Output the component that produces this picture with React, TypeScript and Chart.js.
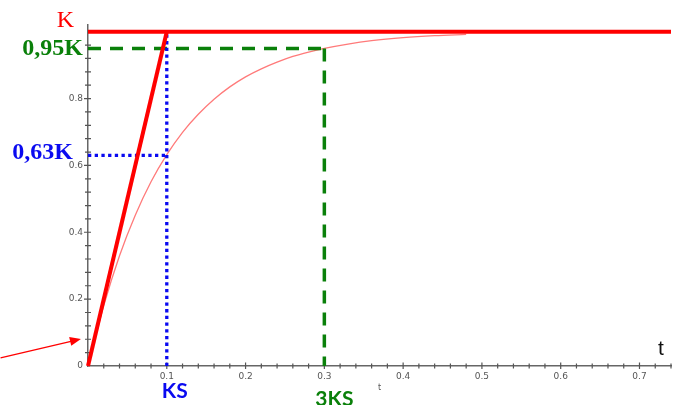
import React, { useEffect, useRef } from "react";
import { Chart, registerables } from "chart.js";

Chart.register(...registerables);

// ---- data ----
const T_VALUES = [0, 0.02, 0.04, 0.06, 0.08, 0.1, 0.12, 0.14, 0.16, 0.18, 0.2, 0.22, 0.24, 0.26, 0.28, 0.3, 0.33, 0.36, 0.4, 0.44, 0.48];
const RESPONSE = [0, 0.181, 0.33, 0.451, 0.551, 0.632, 0.699, 0.753, 0.798, 0.835, 0.865, 0.889, 0.909, 0.926, 0.939, 0.95, 0.963, 0.973, 0.982, 0.988, 0.992];
const K_VALUE = 1;
const KS = 0.1;
const THREE_KS = 0.3;
const LEVEL_63 = 0.63;
const LEVEL_95 = 0.95;
const X_MAX = 0.74;
const Y_MAX = 1.02;
const ARROW_FROM = [-0.111, 0.024];
const ARROW_TO = [-0.009, 0.081];

const RED = "#ff0000";
const BLUE = "#0a0af0";
const GREEN = "#0a800a";

const axisPlugin = {
  id: "axisDecor",
  beforeDatasetsDraw(chart: any) {
    const { ctx, scales } = chart;
    const x = scales.x;
    const y = scales.y;
    const y0 = y.getPixelForValue(0);
    const x0 = x.getPixelForValue(0);
    ctx.save();
    ctx.strokeStyle = "#555";
    ctx.lineWidth = 1.2;
    ctx.beginPath();
    x.ticks.forEach((t: any) => {
      const v = Math.round(t.value * 100);
      if (v === 0 || v % 2 !== 0) return;
      const px = x.getPixelForValue(t.value);
      const major = v % 10 === 0;
      ctx.moveTo(px, y0 - (major ? 3.5 : 2.5));
      ctx.lineTo(px, y0 + (major ? 3 : 2.5));
    });
    y.ticks.forEach((t: any) => {
      const v = Math.round(t.value * 100);
      if (v === 0 || v % 4 !== 0) return;
      const py = y.getPixelForValue(t.value);
      const major = v % 20 === 0;
      ctx.moveTo(x0 - (major ? 4 : 3), py);
      ctx.lineTo(x0 + 3, py);
    });
    ctx.stroke();
    ctx.restore();
  },
  afterDraw(chart: any) {
    const { ctx, scales } = chart;
    const x = scales.x;
    const y = scales.y;
    const x0 = x.getPixelForValue(0);
    ctx.save();
    // arrow
    const fx = x.getPixelForValue(ARROW_FROM[0]);
    const fy = y.getPixelForValue(ARROW_FROM[1]);
    const tx = x.getPixelForValue(ARROW_TO[0]);
    const ty = y.getPixelForValue(ARROW_TO[1]);
    const ang = Math.atan2(ty - fy, tx - fx);
    ctx.strokeStyle = RED;
    ctx.fillStyle = RED;
    ctx.lineWidth = 1.3;
    ctx.beginPath();
    ctx.moveTo(fx, fy);
    ctx.lineTo(tx - 8 * Math.cos(ang), ty - 8 * Math.sin(ang));
    ctx.stroke();
    ctx.beginPath();
    ctx.moveTo(tx, ty);
    ctx.lineTo(tx - 11 * Math.cos(ang) + 4.5 * Math.sin(ang), ty - 11 * Math.sin(ang) - 4.5 * Math.cos(ang));
    ctx.lineTo(tx - 11 * Math.cos(ang) - 4.5 * Math.sin(ang), ty - 11 * Math.sin(ang) + 4.5 * Math.cos(ang));
    ctx.closePath();
    ctx.fill();

    // labels
    ctx.textBaseline = "middle";
    ctx.textAlign = "right";
    ctx.fillStyle = RED;
    ctx.font = '24px "Liberation Serif", serif';
    ctx.fillText("K", x0 - 14, y.getPixelForValue(K_VALUE) - 11);
    ctx.fillStyle = GREEN;
    ctx.font = 'bold 24px "Liberation Serif", serif';
    ctx.fillText("0,95K", x0 - 5, y.getPixelForValue(LEVEL_95));
    ctx.fillStyle = BLUE;
    ctx.fillText("0,63K", x0 - 15, y.getPixelForValue(LEVEL_63) - 3);

    ctx.textAlign = "center";
    ctx.textBaseline = "alphabetic";
    ctx.font = 'bold 21px Lato, "Liberation Sans", sans-serif';
    ctx.fillStyle = BLUE;
    ctx.fillText("KS", x.getPixelForValue(KS) + 8, 398);
    ctx.fillStyle = GREEN;
    ctx.fillText("3KS", x.getPixelForValue(THREE_KS) + 10, 406);

    ctx.fillStyle = "#111";
    ctx.font = '21px "Liberation Sans", sans-serif';
    ctx.textAlign = "center";
    ctx.fillText("t", 661, 355);
    ctx.restore();
  },
};

export default function App() {
  const ref = useRef<HTMLCanvasElement | null>(null);
  useEffect(() => {
    if (!ref.current) return;
    const curve = T_VALUES.map((t, i) => ({ x: t, y: RESPONSE[i] }));
    const chart = new Chart(ref.current, {
      type: "line",
      data: {
        datasets: [
          { data: [{ x: 0, y: K_VALUE }, { x: X_MAX, y: K_VALUE }], borderColor: RED, borderWidth: 4, order: 0 },
          { data: [{ x: 0, y: 0 }, { x: KS, y: K_VALUE }], borderColor: RED, borderWidth: 4, order: 0 },
          { data: [{ x: KS, y: 0 }, { x: KS, y: K_VALUE }], borderColor: BLUE, borderWidth: 3.3, borderDash: [3.3, 3.4], order: 1 },
          { data: [{ x: 0, y: LEVEL_63 }, { x: KS, y: LEVEL_63 }], borderColor: BLUE, borderWidth: 3.3, borderDash: [3.3, 3.4], order: 1 },
          { data: [{ x: 0, y: LEVEL_95 }, { x: THREE_KS, y: LEVEL_95 }], borderColor: GREEN, borderWidth: 3.5, borderDash: [13, 9], order: 1 },
          { data: [{ x: THREE_KS, y: LEVEL_95 }, { x: THREE_KS, y: 0 }], borderColor: GREEN, borderWidth: 3.5, borderDash: [13, 9], order: 1 },
          { data: curve, borderColor: "#ff7a7a", borderWidth: 1.3, cubicInterpolationMode: "monotone", order: 2 },
        ].map((d: any) => ({ ...d, pointRadius: 0, fill: false, clip: false, borderCapStyle: "butt" })),
      },
      options: {
        responsive: false,
        animation: false,
        layout: { padding: { left: 0, top: 25, right: 0, bottom: 0 } },
        plugins: { legend: { display: false }, tooltip: { enabled: false } },
        scales: {
          x: {
            type: "linear",
            min: 0,
            max: X_MAX,
            grid: { display: false, drawTicks: false, tickLength: 0 },
            border: { display: true, color: "#666", width: 1.5 },
            ticks: {
              stepSize: 0.02,
              autoSkip: false,
              maxRotation: 0,
              padding: 5,
              color: "#555",
              font: { size: 9, family: '"DejaVu Sans", sans-serif' },
              callback: (v: any) => {
                const n = Math.round(Number(v) * 100);
                if (n === 0 || n % 10 !== 0) return "";
                return (n / 100).toFixed(1);
              },
            },
            title: { display: true, text: "t", color: "#555", font: { size: 8, family: '"DejaVu Sans", sans-serif' }, padding: { top: 0, bottom: 12 } },
            afterFit: (s: any) => { s.height = 39; },
          },
          y: {
            type: "linear",
            min: 0,
            max: Y_MAX,
            grid: { display: false, drawTicks: false, tickLength: 0 },
            border: { display: true, color: "#666", width: 1.5 },
            ticks: {
              stepSize: 0.04,
              autoSkip: false,
              padding: 5,
              color: "#555",
              font: { size: 9, family: '"DejaVu Sans", sans-serif' },
              callback: (v: any) => {
                const n = Math.round(Number(v) * 100);
                if (n > 100 || n % 20 !== 0) return "";
                if (n === 0) return "0";
                if (n === 100) return "1";
                return (n / 100).toFixed(1);
              },
            },
            afterFit: (s: any) => { s.width = 88; },
          },
        },
      },
      plugins: [axisPlugin],
    } as any);
    return () => chart.destroy();
  }, []);
  return (
    <div style={{ position: "fixed", left: 0, top: 0, width: 676, height: 405, background: "#fff" }}>
      <canvas ref={ref} width={676} height={405} style={{ width: 676, height: 405, display: "block" }} />
    </div>
  );
}
